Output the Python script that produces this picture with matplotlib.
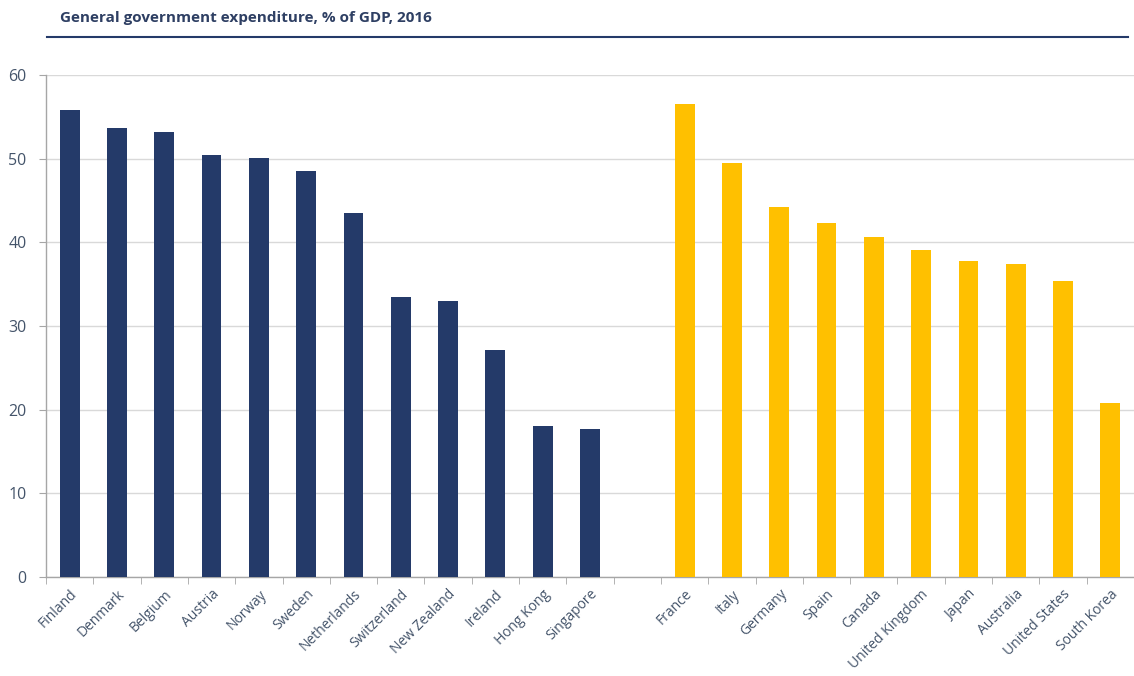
import numpy as np
import matplotlib.pyplot as plt

# data
group1 = ['Finland', 'Denmark', 'Belgium', 'Austria', 'Norway', 'Sweden',
          'Netherlands', 'Switzerland', 'New Zealand', 'Ireland', 'Hong Kong',
          'Singapore']
values1 = [55.8, 53.7, 53.2, 50.4, 50.1, 48.5, 43.5, 33.5, 33.0, 27.1, 18.0, 17.7]
group2 = ['France', 'Italy', 'Germany', 'Spain', 'Canada', 'United Kingdom',
          'Japan', 'Australia', 'United States', 'South Korea']
values2 = [56.5, 49.5, 44.2, 42.3, 40.6, 39.1, 37.8, 37.4, 35.4, 20.8]
yticks = [0, 10, 20, 30, 40, 50, 60]

navy = '#243A69'
gold = '#FFC000'
text_col = '#44546A'

plt.rcParams['font.family'] = ['Open Sans', 'DejaVu Sans']

fig = plt.figure(figsize=(11.34, 6.76), dpi=100)
ax = fig.add_axes([46/1134, 99/676, 1088/1134, 502/676])

x1 = np.arange(len(group1))
x2 = np.arange(len(group2)) + len(group1) + 1
ax.bar(x1, values1, width=0.42, color=navy, zorder=3)
ax.bar(x2, values2, width=0.42, color=gold, zorder=3)

n = len(group1) + 1 + len(group2)
ax.set_xlim(-0.5, n - 0.5)
ax.set_ylim(0, 60)
ax.set_yticks(yticks)
ax.yaxis.grid(True, color='#D9D9D9', linewidth=1, zorder=0)
ax.set_axisbelow(True)

ax.set_xticks(list(x1) + list(x2))
ax.set_xticklabels(group1 + group2, rotation=45, ha='right',
                   rotation_mode='anchor', fontsize=10, color=text_col)
ax.tick_params(axis='x', which='major', length=0, pad=7)
ax.set_xticks(np.arange(n + 1) - 0.5, minor=True)
ax.tick_params(axis='x', which='minor', length=5, color='#A6A6A6', direction='out')
ax.tick_params(axis='y', length=5, color='#A6A6A6', labelsize=11.5,
               labelcolor=text_col, pad=9)

for s in ['top', 'right']:
    ax.spines[s].set_visible(False)
for s in ['left', 'bottom']:
    ax.spines[s].set_color('#A6A6A6')
    ax.spines[s].set_linewidth(1)

fig.text(60/1134, 1 - 18/676, 'General government expenditure, % of GDP, 2016',
         fontsize=11, fontweight='bold', color='#2E3F63', va='center')
fig.add_artist(plt.Line2D([47/1134, 1128/1134], [1 - 37/676, 1 - 37/676],
                          color=navy, linewidth=1.5))

fig.savefig('out.png', dpi=100)
